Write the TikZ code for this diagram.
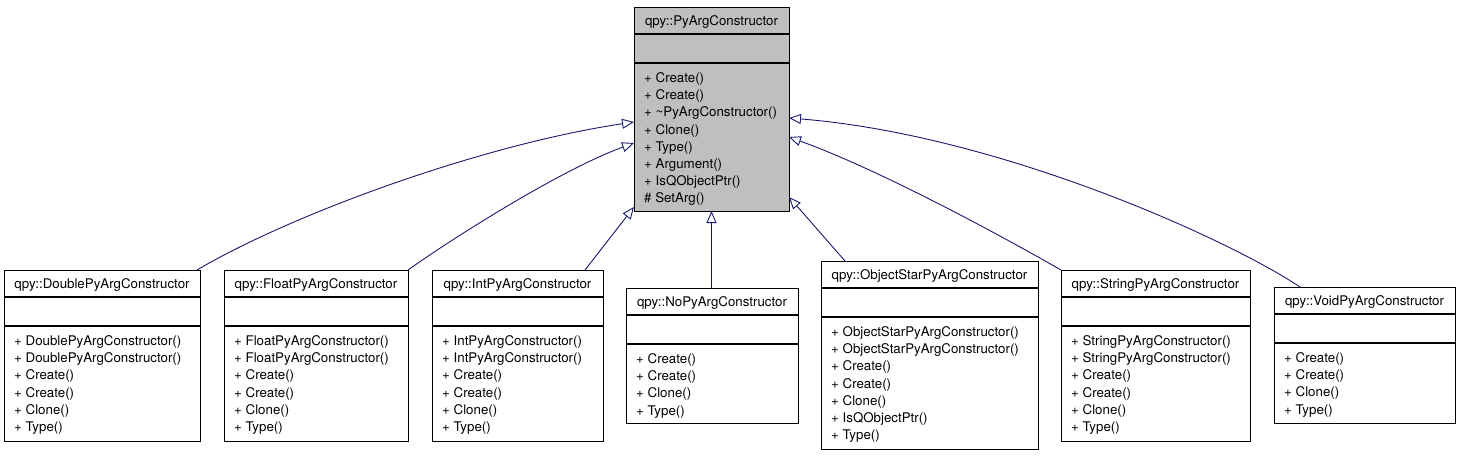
\documentclass[tikz,border=0pt]{standalone}
\usepackage{fontspec}
\setmainfont{TeX Gyre Heros}
\usetikzlibrary{arrows.meta,calc}
\definecolor{edgeblue}{HTML}{191970}
\definecolor{boxgray}{HTML}{BFBFBF}
\tikzset{
  umlbox/.style={draw=black, line width=1pt, anchor=north west, inner sep=0pt, outer sep=0pt},
  umlsep/.style={draw=black, line width=1.1pt},
  umltext/.style={inner sep=0pt, font=\fontsize{13.3}{17}\selectfont},
  inherit/.style={draw=edgeblue, line width=0.9pt, -{Triangle[open, length=12pt, width=10pt]}},
}
% #1 name, #2 left, #3 top, #4 right, #5 bottom, #6 fill, #7 title, #8 rows
\newcommand\umlclass[8]{%
  \node[umlbox, fill=#6, minimum width={#4-#2}, minimum height={#5-#3}] (#1) at (#2,#3) {};
  \draw[umlsep] (#2,#3+27) -- (#4,#3+27);
  \draw[umlsep] (#2,#3+56) -- (#4,#3+56);
  \node[umltext, anchor=base] (#1t) at ({(#2+#4)/2},{#3+18.5}) {#7};
  \foreach \r [count=\i] in {#8} {
    \node[umltext, anchor=base west] (#1r\i) at ({#2+10},{#3+56+19.5+(\i-1)*17.2}) {\r};
  }
}
\begin{document}
\begin{tikzpicture}[x=1pt,y=-1pt]
\useasboundingbox (0,0) rectangle (1461,456);
\umlclass{par}{634}{7}{789}{211}{boxgray}{qpy::PyArgConstructor}
  {+ Create(), + Create(), + \textasciitilde PyArgConstructor(), + Clone(), + Type(), + Argument(), + IsQObjectPtr(), \# SetArg()}
\umlclass{dbl}{4}{270}{200}{441}{white}{qpy::DoublePyArgConstructor}
  {+ DoublePyArgConstructor(), + DoublePyArgConstructor(), + Create(), + Create(), + Clone(), + Type()}
\umlclass{flt}{224}{270}{408}{441}{white}{qpy::FloatPyArgConstructor}
  {+ FloatPyArgConstructor(), + FloatPyArgConstructor(), + Create(), + Create(), + Clone(), + Type()}
\umlclass{int}{432}{270}{603}{441}{white}{qpy::IntPyArgConstructor}
  {+ IntPyArgConstructor(), + IntPyArgConstructor(), + Create(), + Create(), + Clone(), + Type()}
\umlclass{nop}{626}{288}{798}{423}{white}{qpy::NoPyArgConstructor}
  {+ Create(), + Create(), + Clone(), + Type()}
\umlclass{obj}{821}{261}{1038}{449}{white}{qpy::ObjectStarPyArgConstructor}
  {+ ObjectStarPyArgConstructor(), + ObjectStarPyArgConstructor(), + Create(), + Create(), + Clone(), + IsQObjectPtr(), + Type()}
\umlclass{str}{1061}{270}{1250}{441}{white}{qpy::StringPyArgConstructor}
  {+ StringPyArgConstructor(), + StringPyArgConstructor(), + Create(), + Create(), + Clone(), + Type()}
\umlclass{voi}{1274}{287}{1455}{423}{white}{qpy::VoidPyArgConstructor}
  {+ Create(), + Create(), + Clone(), + Type()}
% inheritance connectors
\draw[inherit] ($(dbl.north east)+(-3,0)$) .. controls (290,215) and (480,145) .. ($(par.north west)+(0,115)$);
\draw[inherit] (flt.north east) .. controls (450,240) and (560,170) .. ($(par.north west)+(0,136)$);
\draw[inherit] ($(int.north east)+(-18,0)$) -- ($(par.north west)+(0,200)$);
\draw[inherit] (nop.north -| par.south) -- (par.south);
\draw[inherit] ($(obj.north west)+(24,0)$) -- ($(par.north east)+(0,190)$);
\draw[inherit] (str.north west) .. controls (1000,235) and (880,170) .. ($(par.north east)+(0,130)$);
\draw[inherit] ($(voi.north west)+(26,0)$) .. controls (1230,240) and (1000,135) .. ($(par.north east)+(0,111)$);
\end{tikzpicture}
\end{document}
